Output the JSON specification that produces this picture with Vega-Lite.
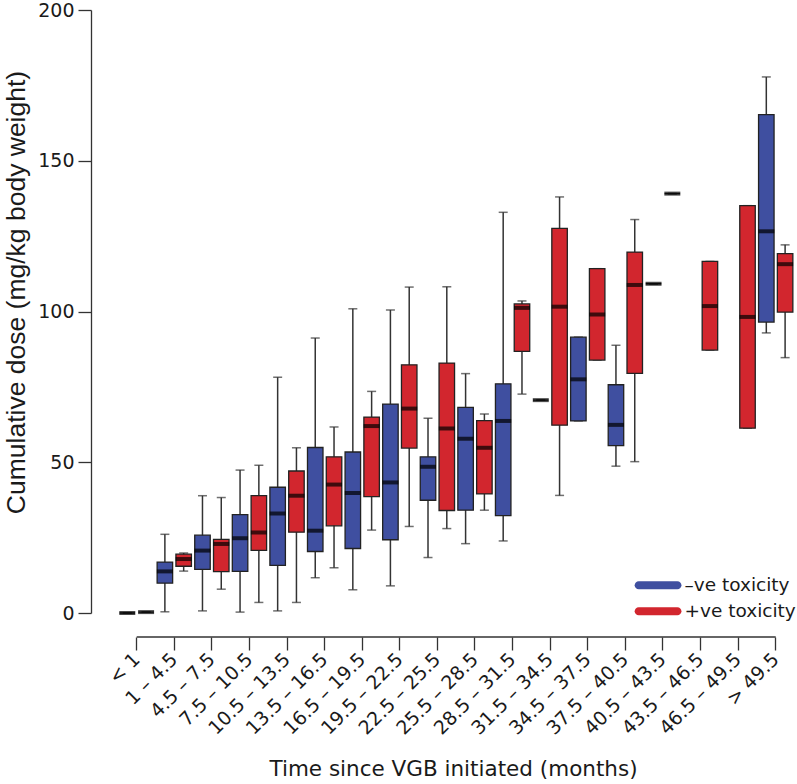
{
  "$schema": "https://vega.github.io/schema/vega-lite/v6.json",
  "width": 706,
  "height": 603,
  "autosize": {"type": "none"},
  "padding": {"left": 91, "top": 10, "right": 0, "bottom": 171},
  "background": "white",
  "config": {
    "view": {"stroke": null},
    "font": "DejaVu Sans",
    "axis": {"grid": false, "labelColor": "#1a1a1a", "titleColor": "#1a1a1a", "titleFontWeight": "normal", "tickColor": "#333", "domainColor": "#333", "tickWidth": 1.3, "domainWidth": 1.3}
  },
  "data": {
    "values": [
      {"group": "< 1", "tox": "–ve toxicity", "lo": 0, "q1": 0, "med": 0, "q3": 0, "hi": 0},
      {"group": "< 1", "tox": "+ve toxicity", "lo": 0.3, "q1": 0.3, "med": 0.3, "q3": 0.3, "hi": 0.3},
      {"group": "1 – 4.5", "tox": "–ve toxicity", "lo": 0.4, "q1": 9.9, "med": 13.8, "q3": 16.9, "hi": 26.1},
      {"group": "1 – 4.5", "tox": "+ve toxicity", "lo": 13.9, "q1": 15.5, "med": 17.9, "q3": 19.5, "hi": 19.9},
      {"group": "4.5 – 7.5", "tox": "–ve toxicity", "lo": 0.7, "q1": 14.5, "med": 20.7, "q3": 25.8, "hi": 38.9},
      {"group": "4.5 – 7.5", "tox": "+ve toxicity", "lo": 7.9, "q1": 13.7, "med": 22.9, "q3": 24.4, "hi": 38.3},
      {"group": "7.5 – 10.5", "tox": "–ve toxicity", "lo": 0.3, "q1": 13.8, "med": 24.8, "q3": 32.6, "hi": 47.4},
      {"group": "7.5 – 10.5", "tox": "+ve toxicity", "lo": 3.5, "q1": 20.8, "med": 26.7, "q3": 38.9, "hi": 49.0},
      {"group": "10.5 – 13.5", "tox": "–ve toxicity", "lo": 0.7, "q1": 15.8, "med": 33.0, "q3": 41.7, "hi": 78.2},
      {"group": "10.5 – 13.5", "tox": "+ve toxicity", "lo": 3.5, "q1": 26.8, "med": 38.9, "q3": 47.1, "hi": 54.8},
      {"group": "13.5 – 16.5", "tox": "–ve toxicity", "lo": 11.7, "q1": 20.4, "med": 27.3, "q3": 54.9, "hi": 91.2},
      {"group": "13.5 – 16.5", "tox": "+ve toxicity", "lo": 15.0, "q1": 28.9, "med": 42.6, "q3": 51.8, "hi": 61.7},
      {"group": "16.5 – 19.5", "tox": "–ve toxicity", "lo": 7.7, "q1": 21.4, "med": 39.8, "q3": 53.4, "hi": 100.9},
      {"group": "16.5 – 19.5", "tox": "+ve toxicity", "lo": 27.5, "q1": 38.6, "med": 62.0, "q3": 65.0, "hi": 73.5},
      {"group": "19.5 – 22.5", "tox": "–ve toxicity", "lo": 9.0, "q1": 24.3, "med": 43.3, "q3": 69.3, "hi": 100.5},
      {"group": "19.5 – 22.5", "tox": "+ve toxicity", "lo": 28.7, "q1": 54.7, "med": 67.8, "q3": 82.3, "hi": 108.1},
      {"group": "22.5 – 25.5", "tox": "–ve toxicity", "lo": 18.4, "q1": 37.4, "med": 48.5, "q3": 51.8, "hi": 64.6},
      {"group": "22.5 – 25.5", "tox": "+ve toxicity", "lo": 28.0, "q1": 34.0, "med": 61.2, "q3": 82.9, "hi": 108.2},
      {"group": "25.5 – 28.5", "tox": "–ve toxicity", "lo": 23.0, "q1": 34.1, "med": 57.8, "q3": 68.2, "hi": 79.4},
      {"group": "25.5 – 28.5", "tox": "+ve toxicity", "lo": 34.1, "q1": 39.5, "med": 54.8, "q3": 63.8, "hi": 66.0},
      {"group": "28.5 – 31.5", "tox": "–ve toxicity", "lo": 23.9, "q1": 32.3, "med": 63.7, "q3": 76.0, "hi": 132.9},
      {"group": "28.5 – 31.5", "tox": "+ve toxicity", "lo": 72.6, "q1": 86.8, "med": 101.2, "q3": 102.5, "hi": 103.5},
      {"group": "31.5 – 34.5", "tox": "–ve toxicity", "lo": 70.6, "q1": 70.6, "med": 70.6, "q3": 70.6, "hi": 70.6},
      {"group": "31.5 – 34.5", "tox": "+ve toxicity", "lo": 39.0, "q1": 62.3, "med": 101.6, "q3": 127.6, "hi": 138.0},
      {"group": "34.5 – 37.5", "tox": "–ve toxicity", "lo": 63.7, "q1": 63.7, "med": 77.5, "q3": 91.5, "hi": 91.5},
      {"group": "34.5 – 37.5", "tox": "+ve toxicity", "lo": 83.9, "q1": 83.9, "med": 99.0, "q3": 114.2, "hi": 114.2},
      {"group": "37.5 – 40.5", "tox": "–ve toxicity", "lo": 48.7, "q1": 55.5, "med": 62.4, "q3": 75.7, "hi": 88.8},
      {"group": "37.5 – 40.5", "tox": "+ve toxicity", "lo": 50.2, "q1": 79.5, "med": 108.8, "q3": 119.7, "hi": 130.5},
      {"group": "40.5 – 43.5", "tox": "–ve toxicity", "lo": 109.2, "q1": 109.2, "med": 109.2, "q3": 109.2, "hi": 109.2},
      {"group": "40.5 – 43.5", "tox": "+ve toxicity", "lo": 139.1, "q1": 139.1, "med": 139.1, "q3": 139.1, "hi": 139.1},
      {"group": "43.5 – 46.5", "tox": "+ve toxicity", "lo": 87.2, "q1": 87.2, "med": 101.8, "q3": 116.6, "hi": 116.6},
      {"group": "46.5 – 49.5", "tox": "+ve toxicity", "lo": 61.3, "q1": 61.3, "med": 98.2, "q3": 135.1, "hi": 135.1},
      {"group": "> 49.5", "tox": "–ve toxicity", "lo": 92.9, "q1": 96.5, "med": 126.6, "q3": 165.3, "hi": 177.8},
      {"group": "> 49.5", "tox": "+ve toxicity", "lo": 84.7, "q1": 99.8, "med": 115.7, "q3": 119.2, "hi": 122.1}
    ]
  },
  "encoding": {
    "x": {
      "field": "group",
      "type": "nominal",
      "sort": ["< 1", "1 – 4.5", "4.5 – 7.5", "7.5 – 10.5", "10.5 – 13.5", "13.5 – 16.5", "16.5 – 19.5", "19.5 – 22.5", "22.5 – 25.5", "25.5 – 28.5", "28.5 – 31.5", "31.5 – 34.5", "34.5 – 37.5", "37.5 – 40.5", "40.5 – 43.5", "43.5 – 46.5", "46.5 – 49.5", "> 49.5"],
      "scale": {"domain": ["< 1", "1 – 4.5", "4.5 – 7.5", "7.5 – 10.5", "10.5 – 13.5", "13.5 – 16.5", "16.5 – 19.5", "19.5 – 22.5", "22.5 – 25.5", "25.5 – 28.5", "28.5 – 31.5", "31.5 – 34.5", "34.5 – 37.5", "37.5 – 40.5", "40.5 – 43.5", "43.5 – 46.5", "46.5 – 49.5", "> 49.5"], "paddingInner": 0, "paddingOuter": 0.391, "align": 0.915},
      "axis": {
        "offset": 24,
        "domain": false,
        "tickSize": 13,
        "labelAngle": -45,
        "labelAlign": "right",
        "labelBaseline": "middle",
        "labelPadding": 6,
        "labelFontSize": 19,
        "title": "Time since VGB initiated (months)",
        "titleFontSize": 21.5,
        "titleAlign": "center",
        "titleBaseline": "alphabetic",
        "titleX": 362,
        "titleY": 138
      }
    }
  },
  "layer": [
    {
      "mark": {"type": "rule", "color": "#333", "strokeWidth": 1.5},
      "encoding": {
        "xOffset": {"field": "tox", "type": "nominal", "scale": {"domain": ["–ve toxicity", "+ve toxicity"], "paddingInner": 0, "paddingOuter": 0}},
        "y": {
          "field": "lo",
          "type": "quantitative",
          "scale": {"domain": [0, 200], "nice": false},
          "axis": {
            "values": [0, 50, 100, 150, 200],
            "tickSize": 13,
            "labelPadding": 4,
            "labelFontSize": 19,
            "title": "Cumulative dose (mg/kg body weight)",
            "titleFont": "Liberation Sans",
            "titleFontSize": 26.5,
            "titleAlign": "center",
            "titleBaseline": "middle",
            "titleX": -75,
            "titleY": 282
          }
        },
        "y2": {"field": "hi"}
      }
    },
    {
      "mark": {"type": "tick", "color": "#333", "size": 9, "thickness": 1.5},
      "encoding": {
        "xOffset": {"field": "tox", "type": "nominal"},
        "y": {"field": "lo", "type": "quantitative"}
      }
    },
    {
      "mark": {"type": "tick", "color": "#333", "size": 9, "thickness": 1.5},
      "encoding": {
        "xOffset": {"field": "tox", "type": "nominal"},
        "y": {"field": "hi", "type": "quantitative"}
      }
    },
    {
      "mark": {"type": "bar", "width": 15.5, "stroke": "#222", "strokeWidth": 1.3, "opacity": 1},
      "encoding": {
        "xOffset": {"field": "tox", "type": "nominal"},
        "y": {"field": "q1", "type": "quantitative"},
        "y2": {"field": "q3"},
        "fill": {
          "field": "tox",
          "type": "nominal",
          "scale": {"domain": ["–ve toxicity", "+ve toxicity"], "range": ["#3f4fa0", "#d2262e"]},
          "legend": {
            "title": null,
            "orient": "none",
            "legendX": 574,
            "legendY": 566,
            "padding": 0,
            "symbolType": "M-3.95,-0.45L0.35,-0.45A0.45,0.45 0 0 1 0.35,0.45L-3.95,0.45A0.45,0.45 0 0 1 -3.95,-0.45Z",
            "symbolSize": 324,
            "symbolStrokeWidth": 0,
            "symbolOpacity": 1,
            "labelFontSize": 18.5,
            "labelColor": "#1a1a1a",
            "labelOffset": 1,
            "rowPadding": 7
          }
        }
      }
    },
    {
      "mark": {"type": "tick", "color": "black", "size": 16, "thickness": 4},
      "encoding": {
        "xOffset": {"field": "tox", "type": "nominal"},
        "y": {"field": "med", "type": "quantitative"}
      }
    },
    {
      "data": {"values": [{}]},
      "mark": {"type": "rule", "color": "#333", "strokeWidth": 1.3},
      "encoding": {
        "x": {"datum": "< 1"},
        "x2": {"datum": "> 49.5"},
        "y": {"datum": -7.96}
      }
    }
  ]
}
